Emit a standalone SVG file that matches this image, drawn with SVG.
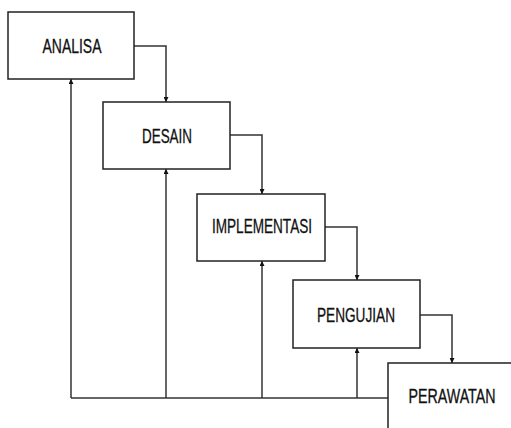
<svg xmlns="http://www.w3.org/2000/svg" width="511" height="428" viewBox="0 0 511 428">
<style>
.box{fill:#fff;stroke:#222;stroke-width:1.5}
.lbl{font-family:"Liberation Sans",Arial,sans-serif;font-size:20px;fill:#111;stroke:#111;stroke-width:0.3;text-anchor:middle}
.con{fill:none;stroke:#333;stroke-width:1.5}
</style>
<defs>
<marker id="ah" viewBox="0 0 10 10" refX="10" refY="5" markerWidth="5" markerHeight="5" orient="auto" markerUnits="userSpaceOnUse">
<path d="M0,0 L10,5 L0,10 Z" fill="#111"/>
</marker>
</defs>
<rect width="511" height="428" fill="#fff"/>
<g id="connectors">
<path class="con" d="M134,46 H166 V102" marker-end="url(#ah)"/>
<path class="con" d="M230,135 H262 V194" marker-end="url(#ah)"/>
<path class="con" d="M325,227 H357 V280" marker-end="url(#ah)"/>
<path class="con" d="M420,315 H452 V363" marker-end="url(#ah)"/>
<path class="con" d="M388,398 H71"/>
<path class="con" d="M71,398 V79" marker-end="url(#ah)"/>
<path class="con" d="M166,398 V169" marker-end="url(#ah)"/>
<path class="con" d="M262,398 V261" marker-end="url(#ah)"/>
<path class="con" d="M357,398 V348" marker-end="url(#ah)"/>
</g>
<g id="analisa">
<rect class="box" x="8" y="12" width="126" height="67"/>
<text class="lbl" x="72" y="53" textLength="59" lengthAdjust="spacingAndGlyphs">ANALISA</text>
</g>
<g id="desain">
<rect class="box" x="103" y="102" width="127" height="67"/>
<text class="lbl" x="167" y="143" textLength="50" lengthAdjust="spacingAndGlyphs">DESAIN</text>
</g>
<g id="implementasi">
<rect class="box" x="197" y="194" width="128" height="67"/>
<text class="lbl" x="262" y="233" textLength="100" lengthAdjust="spacingAndGlyphs">IMPLEMENTASI</text>
</g>
<g id="pengujian">
<rect class="box" x="293" y="280" width="127" height="68"/>
<text class="lbl" x="356" y="322" textLength="78" lengthAdjust="spacingAndGlyphs">PENGUJIAN</text>
</g>
<g id="perawatan">
<rect class="box" x="388" y="363" width="130" height="70"/>
<text class="lbl" x="452" y="403" textLength="87" lengthAdjust="spacingAndGlyphs">PERAWATAN</text>
</g>
</svg>
